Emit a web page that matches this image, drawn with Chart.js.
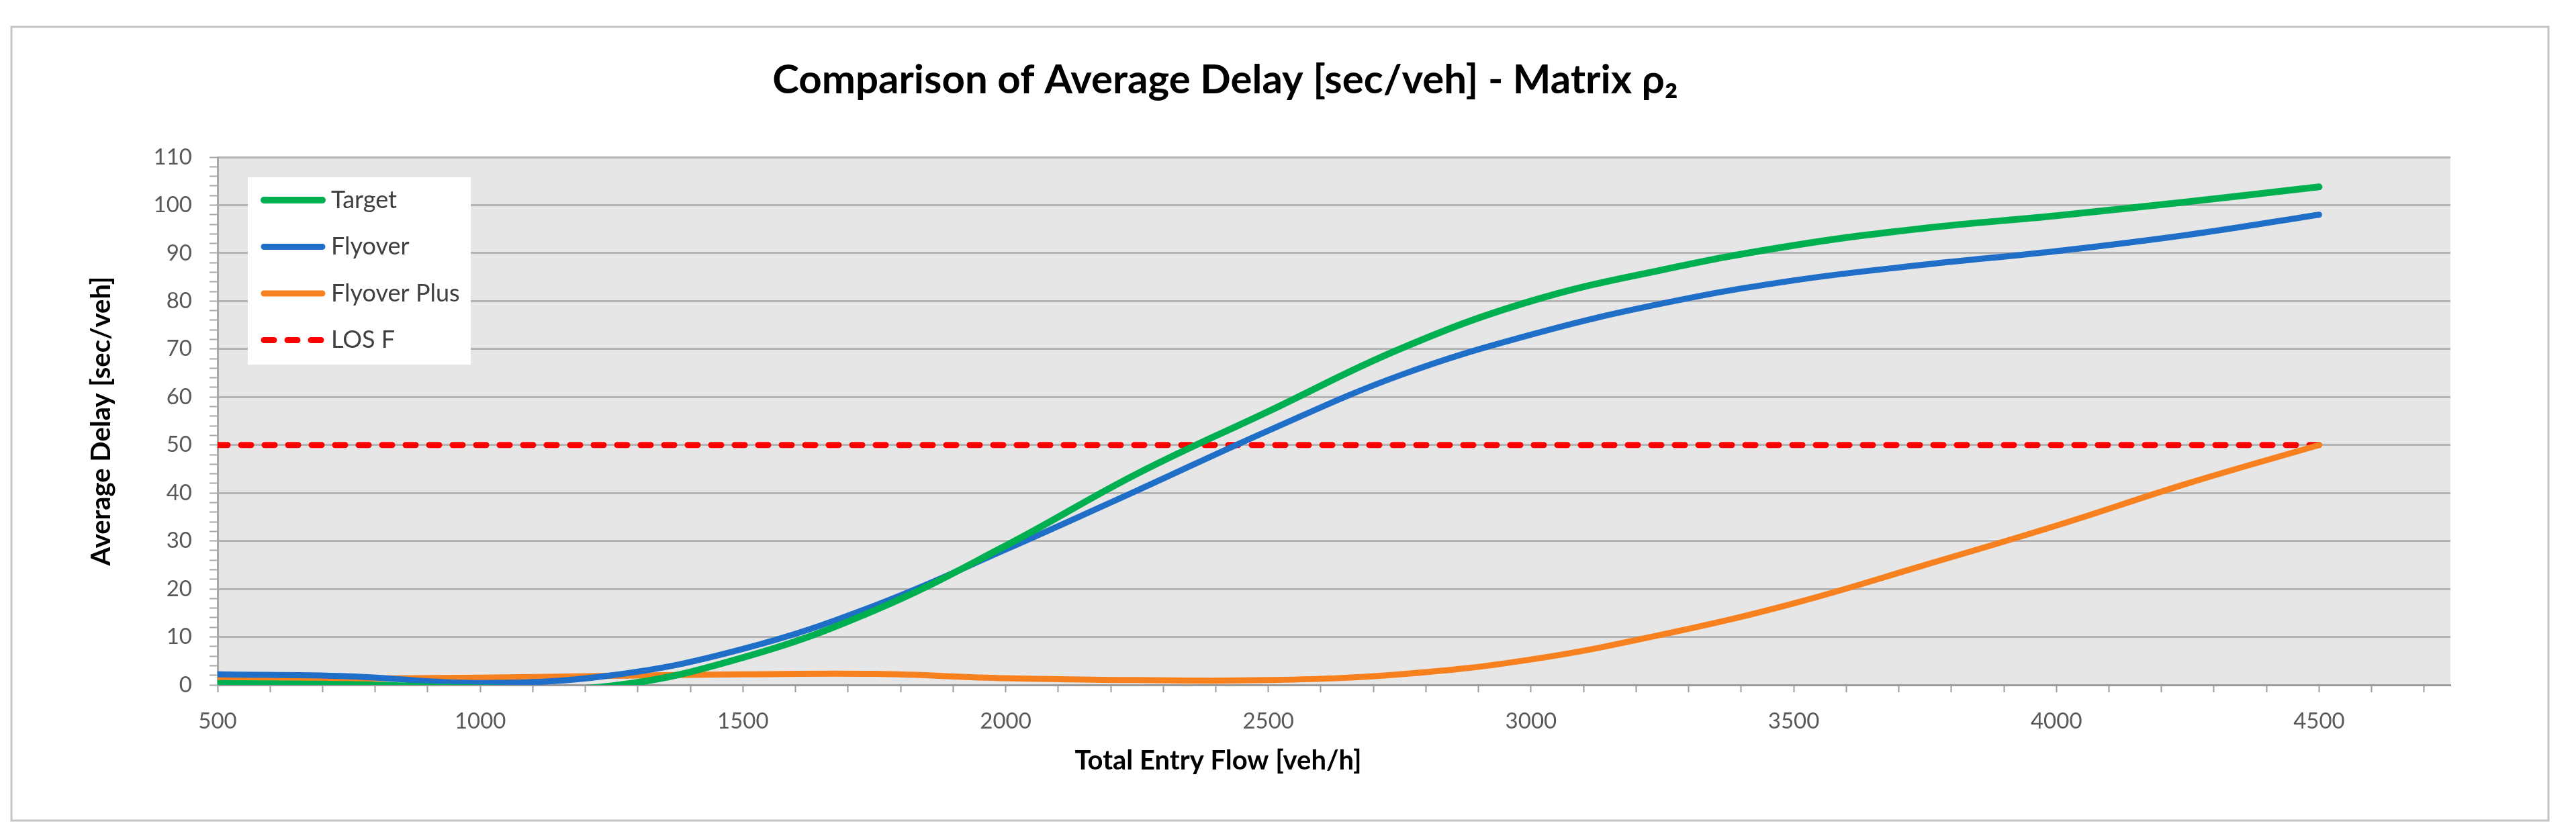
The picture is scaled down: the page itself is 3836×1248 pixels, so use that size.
<!DOCTYPE html>
<html>
<head>
<meta charset="utf-8">
<title>Comparison of Average Delay - Matrix ρ2</title>
<script src="https://cdn.jsdelivr.net/npm/chart.js@4.4.1/dist/chart.umd.min.js"></script>
<style>
    html, body { margin: 0; padding: 0; background: #ffffff; }
    #wrap { position: relative; width: 3836px; height: 1248px; }
</style>
</head>
<body>
<div id="wrap"><canvas id="delayChart"></canvas></div>
<script>
// Values (delay in sec/veh)
const entryFlow = [500, 750, 1000, 1250, 1500, 1750, 2000, 2250, 2500, 2750, 3000, 3250, 3500, 3750, 4000, 4250, 4500];
const targetDelay = [0.3, 0.1, -0.6, -0.2, 5.7, 15.5, 29, 44, 57, 70, 80, 86.5, 91.6, 95.2, 97.8, 100.7, 103.8];
const flyoverDelay = [2.2, 1.8, 0.4, 2.0, 7.5, 16.5, 28.2, 40.5, 53, 64.5, 73, 79.5, 84.3, 87.6, 90.4, 93.8, 98];
const flyoverPlusDelay = [1.1, 1.3, 1.5, 1.9, 2.2, 2.3, 1.4, 1.0, 1.0, 2.2, 5.3, 10.5, 17, 25, 33.2, 42, 50];
const losFlow = [500, 4500];
const losDelay = [50, 50];

const xTickLabels = [500, 1000, 1500, 2000, 2500, 3000, 3500, 4000, 4500];
const yTickLabels = [0, 10, 20, 30, 40, 50, 60, 70, 80, 90, 100, 110];
const xMinorStep = 100;
const yMinorStep = 2;

const FONT = 'Lato, "Open Sans", sans-serif';

// pick a font size so a sample string has the width measured on the reference
const measureCtx = document.createElement('canvas').getContext('2d');
function fitSize(text, weight, width) {
    measureCtx.font = weight + ' 100px ' + FONT;
    return Math.round(100 * width / measureCtx.measureText(text).width);
}

const titleText = 'Comparison of Average Delay [sec/veh] - Matrix ρ₂';
const titleSize = fitSize(titleText, 'bold', 1353);
const axisTitleSize = fitSize('Total Entry Flow [veh/h]', 'bold', 431);
const tickSize = fitSize('2000', 'normal', 76);
const legendSize = fitSize('Flyover Plus', 'normal', 189);

function toPoints(xs, ys) {
    return xs.map((x, i) => ({ x: x, y: ys[i] }));
}

// grey plot area and the thin outer frame
const frame = {
    id: 'frame',
    beforeDraw(chart) {
        const { ctx, chartArea } = chart;
        ctx.save();
        ctx.fillStyle = '#e6e6e6';
        ctx.fillRect(chartArea.left, chartArea.top, chartArea.right - chartArea.left, chartArea.bottom - chartArea.top);
        ctx.strokeStyle = '#c4c4c4';
        ctx.lineWidth = 3;
        ctx.strokeRect(17, 40, 3778, 1182);
        ctx.restore();
    }
};

// x axis title sits left of the plot centre in the reference
const xTitle = {
    id: 'xTitle',
    afterDraw(chart) {
        const t = chart.scales.x.options.title;
        const ctx = chart.ctx;
        ctx.save();
        ctx.font = 'bold ' + axisTitleSize + 'px ' + FONT;
        ctx.fillStyle = '#000000';
        ctx.textAlign = 'center';
        ctx.textBaseline = 'middle';
        ctx.fillText(t.text, 1814, 1133);
        ctx.restore();
    }
};

// legend box inside the plot, top left
const insideLegend = {
    id: 'insideLegend',
    afterDatasetsDraw(chart) {
        const { ctx, chartArea } = chart;
        const left = chartArea.left + 45;
        const top = chartArea.top + 30;
        ctx.save();
        ctx.fillStyle = '#ffffff';
        ctx.fillRect(left, top, 332, 279);
        ctx.font = legendSize + 'px ' + FONT;
        ctx.textBaseline = 'middle';
        ctx.textAlign = 'left';
        chart.data.datasets.forEach((ds, i) => {
            const y = top + 34 + i * 69.5;
            ctx.beginPath();
            ctx.strokeStyle = ds.borderColor;
            ctx.lineWidth = ds.borderWidth;
            ctx.lineCap = 'round';
            ctx.setLineDash(ds.borderDash || []);
            ctx.moveTo(left + 24, y);
            ctx.lineTo(left + 111, y);
            ctx.stroke();
            ctx.setLineDash([]);
            ctx.fillStyle = '#404040';
            ctx.fillText(ds.label, left + 124, y);
        });
        ctx.restore();
    }
};

const gridGrey = '#b4b4b4';
const titleLine = titleSize * 1.2;
const yTitleLine = axisTitleSize * 1.2;

new Chart(document.getElementById('delayChart'), {
    type: 'line',
    data: {
        datasets: [
            {
                label: 'Target',
                data: toPoints(entryFlow, targetDelay),
                borderColor: '#00b050',
                borderWidth: 10
            },
            {
                label: 'Flyover',
                data: toPoints(entryFlow, flyoverDelay),
                borderColor: '#1f6fc9',
                borderWidth: 9
            },
            {
                label: 'Flyover Plus',
                data: toPoints(entryFlow, flyoverPlusDelay),
                borderColor: '#f7801f',
                borderWidth: 9
            },
            {
                label: 'LOS F',
                data: toPoints(losFlow, losDelay),
                borderColor: '#ff0000',
                borderWidth: 9,
                borderDash: [15, 20],
                tension: 0
            }
        ]
    },
    options: {
        responsive: true,
        maintainAspectRatio: false,
        animation: false,
        devicePixelRatio: 1,
        layout: { padding: { left: 0, right: 187, top: 0, bottom: 78 } },
        elements: {
            point: { radius: 0, hoverRadius: 0 },
            line: { tension: 0.4, borderCapStyle: 'round', borderJoinStyle: 'round', fill: false }
        },
        plugins: {
            legend: { display: false },
            tooltip: { enabled: false },
            title: {
                display: true,
                text: titleText,
                color: '#000000',
                font: { family: FONT, size: titleSize, weight: 'bold', lineHeight: 1.2 },
                padding: { top: 120 - titleLine / 2, bottom: 234 - (120 + titleLine / 2) }
            }
        },
        scales: {
            x: {
                type: 'linear',
                min: 500,
                max: 4750,
                afterBuildTicks(scale) {
                    const ticks = [];
                    for (let v = 500; v <= 4700; v += xMinorStep) ticks.push({ value: v });
                    scale.ticks = ticks;
                },
                afterFit(scale) { scale.height = 150; },
                ticks: {
                    autoSkip: false,
                    maxRotation: 0,
                    padding: 24,
                    color: '#595959',
                    font: { family: FONT, size: tickSize, lineHeight: 1.2 },
                    callback: v => xTickLabels.includes(v) ? String(v) : ''
                },
                grid: {
                    drawOnChartArea: false,
                    drawTicks: true,
                    tickLength: 11,
                    tickColor: '#9a9a9a',
                    tickWidth: 2
                },
                border: { display: true, color: '#9a9a9a', width: 3 },
                title: { display: false, text: 'Total Entry Flow [veh/h]' }
            },
            y: {
                min: 0,
                max: 110,
                afterBuildTicks(scale) {
                    const ticks = [];
                    for (let v = 0; v <= 110; v += yMinorStep) ticks.push({ value: v });
                    scale.ticks = ticks;
                },
                afterFit(scale) { scale.width = 324; },
                ticks: {
                    autoSkip: false,
                    padding: 26,
                    color: '#595959',
                    font: { family: FONT, size: tickSize, lineHeight: 1.2 },
                    callback: v => yTickLabels.includes(v) ? String(v) : ''
                },
                grid: {
                    color: c => yTickLabels.includes(c.tick.value) ? gridGrey : 'rgba(0,0,0,0)',
                    lineWidth: 3,
                    drawTicks: true,
                    tickLength: 12,
                    tickColor: '#a8a8a8',
                    tickWidth: 2
                },
                border: { display: true, color: '#a8a8a8', width: 3 },
                title: {
                    display: true,
                    text: 'Average Delay [sec/veh]',
                    color: '#000000',
                    font: { family: FONT, size: axisTitleSize, weight: 'bold', lineHeight: 1.2 },
                    padding: { top: 151 - yTitleLine / 2, bottom: 0 }
                }
            }
        }
    },
    plugins: [frame, insideLegend, xTitle]
});
</script>
</body>
</html>
